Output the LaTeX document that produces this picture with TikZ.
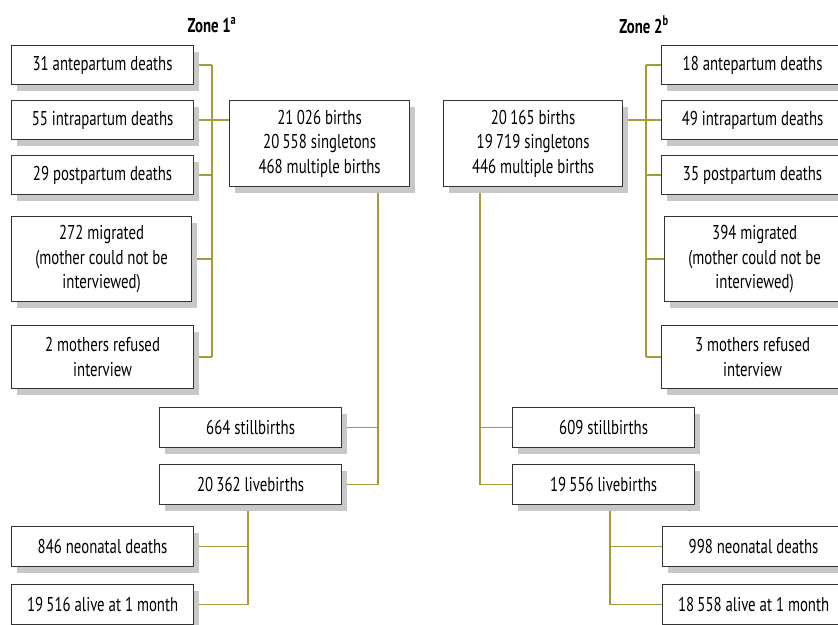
\documentclass[tikz,border=0pt]{standalone}
\usepackage{fontspec}
\setmainfont{PT Sans}[FakeStretch=0.74]
\usetikzlibrary{positioning,shadows,backgrounds}
\definecolor{boxline}{RGB}{51,51,51}
\definecolor{busline}{RGB}{164,156,58}
\definecolor{shade}{RGB}{200,200,200}

\begin{document}
\begin{tikzpicture}[x=1pt,y=-1pt,font=\fontsize{20}{24.5}\selectfont,
  b/.style={draw=boxline,line width=1.2pt,fill=white,align=center,inner sep=0pt,
    minimum width=182pt,minimum height=39pt,anchor=north west,
    drop shadow={shadow xshift=5pt,shadow yshift=-6pt,fill=shade,opacity=1}},
  l/.style={draw=busline,line width=1.3pt}]
  \useasboundingbox (0,0) rectangle (838,624);
  % zone 1
  \node (z1) at (212,25) {\textbf{Zone 1\textsuperscript{a}}};
  \node[b] (ante1) at (11,45) {31 antepartum deaths};
  \node[b] (intra1) at (11,100) {55 intrapartum deaths};
  \node[b] (post1) at (11,155) {29 postpartum deaths};
  \node[b,minimum width=180pt,minimum height=85pt] (migr1) at (11,216) {272 migrated\\(mother could not be\\interviewed)};
  \node[b,minimum height=63pt] (ref1) at (11,325) {2 mothers refused\\interview};
  \node[b,minimum width=180pt,minimum height=86pt] (births1) at (229,100) {21\,026 births\\20\,558 singletons\\468 multiple births};
  \node[b,minimum height=40pt] (still1) at (159,407) {664 stillbirths};
  \node[b,minimum height=40pt,below=16pt of still1] (live1) {20\,362 livebirths};
  \node[b,minimum height=40pt] (neo1) at (11,526) {846 neonatal deaths};
  \node[b,minimum height=40pt,below=17pt of neo1] (alive1) {19\,516 alive at 1 month};
  % zone 2
  \node (z2) at (644,25) {\textbf{Zone 2\textsuperscript{b}}};
  \node[b,minimum width=179pt,minimum height=86pt] (births2) at (443,100) {20\,165 births\\19\,719 singletons\\446 multiple births};
  \node[b] (ante2) at (661,45) {18 antepartum deaths};
  \node[b] (intra2) at (661,100) {49 intrapartum deaths};
  \node[b] (post2) at (661,155) {35 postpartum deaths};
  \node[b,minimum width=180pt,minimum height=85pt] (migr2) at (664,216) {394 migrated\\(mother could not be\\interviewed)};
  \node[b,minimum height=63pt] (ref2) at (661,325) {3 mothers refused\\interview};
  \node[b,minimum height=40pt] (still2) at (512,407) {609 stillbirths};
  \node[b,minimum height=40pt,below=16pt of still2] (live2) {19\,556 livebirths};
  \node[b,minimum height=40pt] (neo2) at (662,526) {998 neonatal deaths};
  \node[b,minimum height=40pt,below=17pt of neo2] (alive2) {18\,558 alive at 1 month};
  % connectors
  \begin{scope}[on background layer]
    \coordinate (bus1) at (212,0);
    \coordinate (bus2) at (378,0);
    \coordinate (bus3) at (248,0);
    \coordinate (bus4) at (646,0);
    \coordinate (bus5) at (480,0);
    \coordinate (bus6) at (610,0);
    \foreach \n in {ante1,intra1,post1,migr1,ref1}{\draw[l] (\n.east) -- (\n.east -| bus1);}
    \draw[l] (ante1.east -| bus1) -- (ref1.east -| bus1);
    \draw[l] (intra1.east -| bus1) -- (births1.west |- intra1.east);
    \foreach \n in {still1,live1}{\draw[l] (\n.east) -- (\n.east -| bus2);}
    \draw[l] (births1.south -| bus2) -- (live1.east -| bus2);
    \foreach \n in {neo1,alive1}{\draw[l] (\n.east) -- (\n.east -| bus3);}
    \draw[l] (live1.south -| bus3) -- (alive1.east -| bus3);
    \foreach \n in {ante2,intra2,post2,migr2,ref2}{\draw[l] (\n.west) -- (\n.west -| bus4);}
    \draw[l] (ante2.west -| bus4) -- (ref2.west -| bus4);
    \draw[l] (births2.east |- intra2.west) -- (intra2.west -| bus4);
    \foreach \n in {still2,live2}{\draw[l] (\n.west) -- (\n.west -| bus5);}
    \draw[l] (births2.south -| bus5) -- (live2.west -| bus5);
    \foreach \n in {neo2,alive2}{\draw[l] (\n.west) -- (\n.west -| bus6);}
    \draw[l] (live2.south -| bus6) -- (alive2.west -| bus6);
  \end{scope}
\end{tikzpicture}
\end{document}
